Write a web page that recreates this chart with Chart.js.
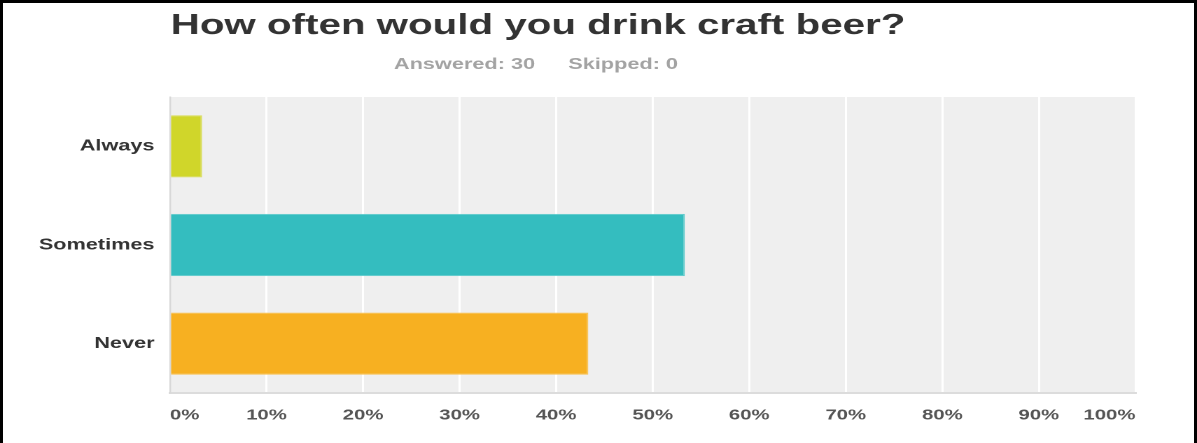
<!DOCTYPE html>
<html>
<head>
<meta charset="utf-8">
<title>Craft beer survey</title>
<script src="https://cdn.jsdelivr.net/npm/chart.js@4.4.1/dist/chart.umd.min.js"></script>
<style>
    html, body { margin: 0; padding: 0; background: #fff; }
    .frame { position: relative; width: 1197px; height: 443px; overflow: hidden; }
    /* the survey widget renders wide, so the chart is drawn narrow and stretched */
    .stretch { position: absolute; left: 0; top: 0; width: 855px; height: 443px;
               transform: scaleX(1.4); transform-origin: 0 0; }
    .border { position: absolute; left: 0; top: 0; right: 0; bottom: 0;
              border: 3px solid #000; border-bottom: none; pointer-events: none; }
</style>
</head>
<body>
<div class="frame">
    <div class="stretch"><canvas id="beerChart"></canvas></div>
    <div class="border"></div>
</div>
<script>
// Survey answers (share of respondents, %)
const categories = ['Always', 'Sometimes', 'Never'];
const percentValues = [3.33, 53.33, 43.33];
const tickLabels = ['0%', '10%', '20%', '30%', '40%', '50%', '60%', '70%', '80%', '90%', '100%'];

const questionText = 'How often would you drink craft beer?';
const answeredText = 'Answered: 30';
const skippedText = 'Skipped: 0';

const barColors = ['#d0d62a', '#34bdbf', '#f7b021'];
const barEdges = ['#dade62', '#5ecbcc', '#f9c458'];

const fontFamily = '"Liberation Sans", Arial, Helvetica, sans-serif';

// Grey panel behind the bars
const plotBackground = {
    id: 'plotBackground',
    beforeDraw(chart) {
        const { ctx, chartArea: a } = chart;
        ctx.save();
        ctx.fillStyle = '#efefef';
        ctx.fillRect(a.left, a.top, a.right - a.left, a.bottom - a.top);
        ctx.restore();
    }
};

// Question title and answered/skipped counts
const headerText = {
    id: 'headerText',
    afterDraw(chart) {
        const { ctx, chartArea: a } = chart;
        ctx.save();
        ctx.textBaseline = 'alphabetic';
        ctx.textAlign = 'left';
        ctx.fillStyle = '#333';
        ctx.font = 'bold 28.8px ' + fontFamily;
        ctx.fillText(questionText, a.left + 0.5, 34);

        ctx.fillStyle = '#a3a3a3';
        ctx.font = 'bold 15.5px ' + fontFamily;
        ctx.fillText(answeredText, 281.4, 69);
        ctx.fillText(skippedText, 405.9, 69);
        ctx.restore();
    }
};

function initChart() {
    const ctx = document.getElementById('beerChart').getContext('2d');

    new Chart(ctx, {
        type: 'bar',
        data: {
            labels: categories,
            datasets: [{
                data: percentValues,
                backgroundColor: barColors,
                borderColor: barEdges,
                borderWidth: 1,
                barPercentage: 0.63,
                categoryPercentage: 1
            }]
        },
        options: {
            indexAxis: 'y',
            responsive: true,
            maintainAspectRatio: false,
            devicePixelRatio: 2,
            animation: false,
            layout: { padding: { top: 97, right: 44, left: 0, bottom: 0 } },
            plugins: {
                legend: { display: false },
                tooltip: { enabled: false },
                title: { display: false }
            },
            scales: {
                x: {
                    min: 0,
                    max: 100,
                    ticks: {
                        stepSize: 10,
                        align: 'inner',
                        padding: 14,
                        color: '#555',
                        font: { family: fontFamily, size: 14.5, weight: 'bold' },
                        callback: (value, i) => tickLabels[i]
                    },
                    grid: { color: '#fff', lineWidth: 1.5, drawTicks: false },
                    border: { color: '#dcdcdc', width: 2 },
                    afterFit: (scale) => { scale.height = 50; }
                },
                y: {
                    ticks: {
                        padding: 11,
                        color: '#333',
                        font: { family: fontFamily, size: 15.5, weight: 'bold' }
                    },
                    grid: { display: false, drawTicks: false },
                    border: { color: '#d8d8d8', width: 1.2 },
                    afterFit: (scale) => { scale.width = 121.4; }
                }
            }
        },
        plugins: [plotBackground, headerText]
    });
}

initChart();
</script>
</body>
</html>
